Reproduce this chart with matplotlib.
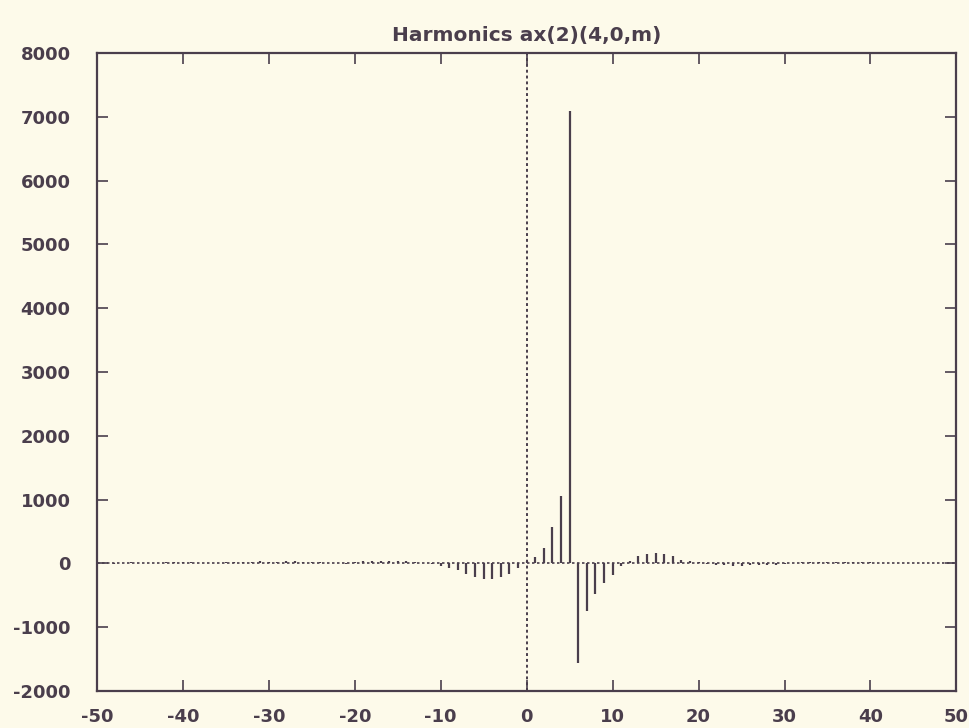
import numpy as np
import matplotlib
matplotlib.use('Agg')
import matplotlib.pyplot as plt

plt.rcParams['axes.unicode_minus'] = False

# harmonic index m and amplitude
m = np.arange(-50, 51)
amp_left = [10, 5, -5, 10, 15, 10, 5, 10, 15, 20,
            20, 15, 10, 5, 10, 15, 20, 25, 25, 30,
            20, 25, 30, 30, 25, 20, 15, 10, 5, -10,
            20, 30, 35, 40, 40, 35, 30, 20, 10, -10,
            -40, -70, -110, -160, -210, -240, -240, -210, -160, -80]
amp_zero = [30]
amp_right = [100, 235, 570, 1050, 7100, -1560, -750, -475, -310, -180,
             -40, 30, 110, 150, 160, 140, 110, 60, 30, 15,
             -10, -20, -30, -35, -35, -30, -30, -25, -20, -15,
             10, 15, 15, 20, 20, 20, 20, 15, 15, 15,
             10, 10, 10, 10, 5, 5, 5, 5, 5, 5]
amp = np.array(amp_left + amp_zero + amp_right)

xticks = list(range(-50, 51, 10))
yticks = list(range(-2000, 8001, 1000))

paper = '#fdfaea'
ink = '#4a3e4c'

fig = plt.figure(figsize=(9.69, 7.28), dpi=100, facecolor=paper)
ax = fig.add_axes([0.100, 0.051, 0.887, 0.876], facecolor=paper)

ax.vlines(m, 0, amp, color=ink, lw=1.6)
ax.axhline(0, color=ink, lw=1.2, ls=(0, (1.5, 1.5)))
ax.axvline(0, color=ink, lw=1.4, ls=(0, (1.5, 1.5)))

ax.set_xlim(-50, 50)
ax.set_ylim(-2000, 8000)
ax.set_xticks(xticks)
ax.set_yticks(yticks)
ax.tick_params(direction='in', length=8, width=1.2, color=ink,
               top=True, right=True, labelcolor=ink)
ax.tick_params(axis='y', pad=19)
ax.tick_params(axis='x', pad=12)
for lab in ax.get_xticklabels() + ax.get_yticklabels():
    lab.set_fontweight('bold')
    lab.set_fontsize(13)
for s in ax.spines.values():
    s.set_color(ink)
    s.set_linewidth(1.6)

ax.set_title('Harmonics ax(2)(4,0,m)', fontsize=14.5, fontweight='bold',
             color=ink, pad=9)

fig.savefig('out.png', dpi=100, facecolor=paper)
